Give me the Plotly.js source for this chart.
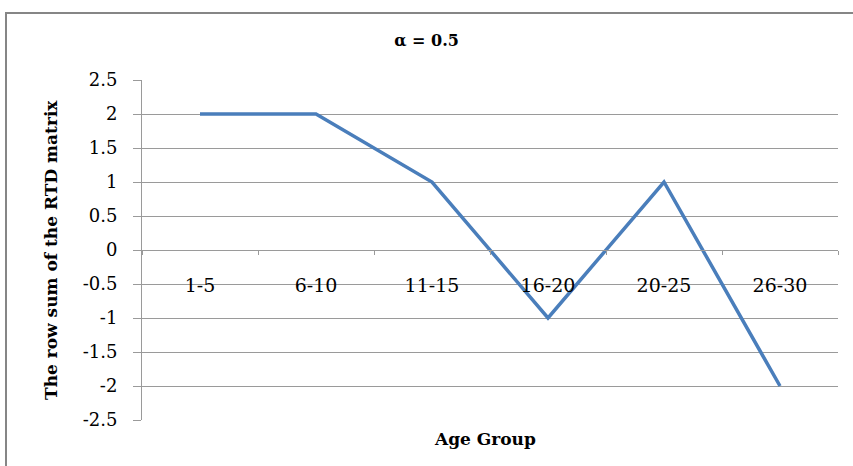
<!DOCTYPE html>
<html>
<head>
<meta charset="utf-8">
<script src="https://cdn.plot.ly/plotly-3.0.1.min.js"></script>
<style>
  html, body { margin: 0; padding: 0; background: #fff; }
  #chart { width: 853px; height: 466px; }
</style>
</head>
<body>
<div id="chart"></div>
<script>
// Age groups and the row sums of the RTD matrix (alpha = 0.5)
const ageGroups = ['1-5', '6-10', '11-15', '16-20', '20-25', '26-30'];
const rowSums = [2, 2, 1, -1, 1, -2];
const yTicks = [2.5, 2, 1.5, 1, 0.5, 0, -0.5, -1, -1.5, -2, -2.5];

const serif = '"DejaVu Serif", "Liberation Serif", serif';
const gridGray = '#9a9a9a';

const trace = {
  x: ageGroups,
  y: rowSums,
  type: 'scatter',
  mode: 'lines',
  line: { color: '#4a7ebb', width: 3.5 },
  hoverinfo: 'x+y'
};

const layout = {
  width: 853,
  height: 466,
  margin: { l: 142, r: 15, t: 80, b: 46 },
  paper_bgcolor: '#ffffff',
  plot_bgcolor: '#ffffff',
  showlegend: false,
  title: {
    text: '<b>\u03b1 = 0.5</b>',
    font: { family: serif, size: 16, color: '#000' },
    x: 435, xref: 'container', xanchor: 'center',
    y: 423, yref: 'container', yanchor: 'middle'
  },
  xaxis: {
    type: 'category',
    range: [-0.5, 5.5],
    anchor: 'free',
    position: 0.5,
    showline: true,
    linecolor: gridGray,
    linewidth: 1,
    ticks: 'outside',
    tickson: 'boundaries',
    ticklen: 4,
    tickcolor: gridGray,
    showgrid: false,
    zeroline: false,
    ticklabelstandoff: 18,
    tickfont: { family: serif, size: 19, color: '#000' }
  },
  yaxis: {
    range: [-2.5, 2.5],
    tickmode: 'array',
    tickvals: yTicks,
    ticktext: yTicks.map(String),
    showgrid: true,
    gridcolor: gridGray,
    gridwidth: 1,
    zeroline: false,
    showline: true,
    linecolor: gridGray,
    ticks: 'outside',
    ticklen: 8,
    tickcolor: gridGray,
    ticklabelstandoff: 12,
    tickfont: { family: serif, size: 18, color: '#000' }
  },
  annotations: [
    {
      // y-axis title
      text: '<b>The row sum of the RTD matrix</b>',
      xref: 'paper', yref: 'paper',
      x: (51 - 142) / 696, y: 0.5,
      xanchor: 'center', yanchor: 'middle',
      textangle: -90,
      showarrow: false,
      font: { family: serif, size: 17, color: '#000' }
    },
    {
      // x-axis title
      text: '<b>Age Group</b>',
      xref: 'paper', yref: 'paper',
      x: (485 - 142) / 696, y: (420 - 439) / 340,
      xanchor: 'center', yanchor: 'middle',
      showarrow: false,
      font: { family: serif, size: 17, color: '#000' }
    }
  ],
  shapes: [
    {
      // outer chart-area frame
      type: 'rect',
      xref: 'paper', yref: 'paper',
      x0: -0.1954, x1: 1.5, y0: -0.5, y1: 1.197,
      line: { color: '#868686', width: 2 },
      fillcolor: 'rgba(0,0,0,0)',
      layer: 'below'
    }
  ]
};

Plotly.newPlot('chart', [trace], layout, { displayModeBar: false, staticPlot: true });
</script>
</body>
</html>
